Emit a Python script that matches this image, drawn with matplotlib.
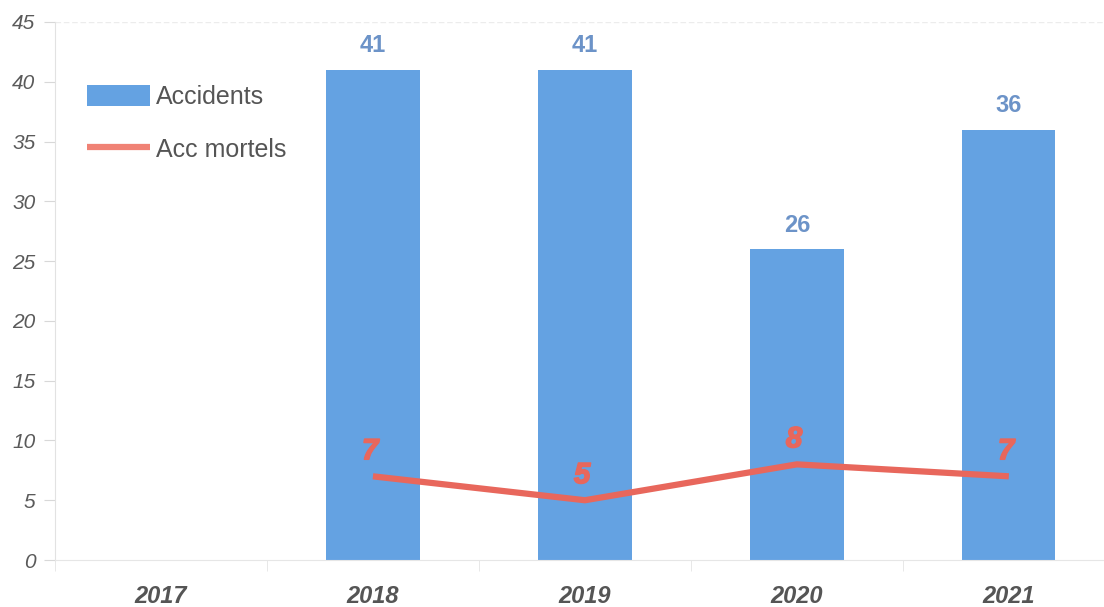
import numpy as np
import matplotlib.pyplot as plt
import matplotlib.patheffects as pe
from matplotlib.ticker import FixedLocator

# données du graphique
annees = ['2017', '2018', '2019', '2020', '2021']
accidents = [None, 41, 41, 26, 36]
acc_mortels = [None, 7, 5, 8, 7]
y_ticks = [0, 5, 10, 15, 20, 25, 30, 35, 40, 45]

plt.rcParams['font.family'] = ['Liberation Sans', 'DejaVu Sans']

fig = plt.figure(figsize=(11.04, 6.07), dpi=100)
ax = fig.add_axes([0.0498, 0.0774, 0.960, 0.8864])

x = np.arange(len(annees))
bar_x = [i for i, v in zip(x, accidents) if v is not None]
bar_v = [v for v in accidents if v is not None]
line_x = [i for i, v in zip(x, acc_mortels) if v is not None]
line_v = [v for v in acc_mortels if v is not None]

# barres Accidents
bars = ax.bar(bar_x, bar_v, width=0.44, color='#64A2E2', label='Accidents', zorder=2)
for xi, v in zip(bar_x, bar_v):
    ax.annotate(str(v), (xi, v), xytext=(0, 9), textcoords='offset points',
                ha='center', va='bottom', fontsize=17, fontweight='bold',
                color='#6C93C8')

# courbe Acc mortels
line, = ax.plot(line_x, line_v, color='#E8675C', linewidth=4.5, solid_capstyle='butt',
                label='Acc mortels', zorder=3)
for xi, v in zip(line_x, line_v):
    ax.annotate(str(v), (xi, v), xytext=(-2, 8), textcoords='offset points',
                ha='center', va='bottom', fontsize=21, fontweight='bold',
                fontstyle='italic', color='#E8675C', zorder=4,
                path_effects=[pe.withStroke(linewidth=1.2, foreground='#E8675C')])

ax.set_xlim(-0.5, 4.5)
ax.set_ylim(0, 45)
ax.set_yticks(y_ticks)
ax.set_yticklabels([str(t) for t in y_ticks], fontstyle='italic',
                   fontsize=15, color='#5a5a5a')
ax.set_xticks(x)
ax.set_xticklabels(annees, fontstyle='italic', fontweight='bold',
                   fontsize=17, color='#555555')
ax.xaxis.set_minor_locator(FixedLocator(np.arange(-0.5, 5, 1)))
ax.tick_params(axis='x', which='major', length=0, pad=18)
ax.tick_params(axis='x', which='minor', length=8, color='#e4e4e4')
ax.tick_params(axis='y', length=8, color='#d8d8d8', pad=6)

for side in ['top', 'right']:
    ax.spines[side].set_visible(False)
ax.spines['left'].set_color('#e2e2e2')
ax.spines['bottom'].set_color('#e6e6e6')
ax.axhline(45, color='#ececec', linewidth=1, linestyle=(0, (4, 2)), zorder=1)

leg = ax.legend([bars, line], ['Accidents', 'Acc mortels'], loc='upper left',
                bbox_to_anchor=(0.009, 0.925), frameon=False,
                fontsize=18, handlelength=2.5, handleheight=0.9,
                labelspacing=1.15, handletextpad=0.25, labelcolor='#555555')
leg.get_lines()[0].set_color('#F08275')

fig.savefig('out.png', dpi=100)
